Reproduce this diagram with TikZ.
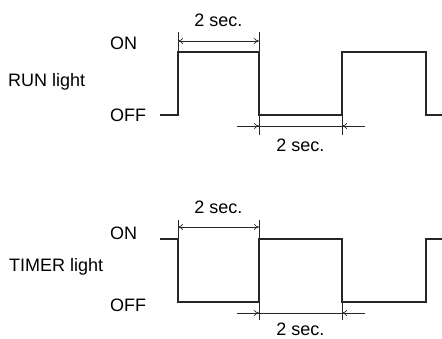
\documentclass[tikz,border=0pt]{standalone}
\usepackage{fontspec}
\setmainfont{Liberation Sans}
\usetikzlibrary{arrows.meta}

\begin{document}
\begin{tikzpicture}[x=1pt, y=-1pt, >={To[length=5pt,width=6pt]},
  font=\fontsize{18}{21}\selectfont]

  \useasboundingbox (0,0) rectangle (442,339);

  \tikzset{
    wave/.style={line width=2pt, line join=miter, black!85},
    dim/.style={line width=0.7pt, black!85},
    lbl/.style={anchor=west, inner sep=0pt}
  }

  % ---------- RUN light (Top) ----------
  \begin{scope}
    \node[lbl] (runname) at (8, 82) {RUN light};
    \node[lbl] (runon)  at (110, 43) {ON};
    \node[lbl] (runoff) at (110, 115) {OFF};

    \draw[wave] (160,115) -- (178,115) -- (178,52) -- (259,52) -- (259,115)
      -- (342,115) -- (342,52) -- (426,52) -- (426,115) -- (442,115);

    % dimension above
    \draw[dim] (178,32) -- (178,52) (259,32) -- (259,52);
    \draw[dim, <->] (178,41) -- (259,41);
    \node (runtop) at (218.5, 20) {2 sec.};

    % dimension below
    \draw[dim] (259,115) -- (259,135) (342,115) -- (342,135);
    \draw[dim] (237,126) -- (365,126);
    \draw[dim, ->] (237,126) -- (259,126);
    \draw[dim, ->] (365,126) -- (342,126);
    \node (runbot) at (300.5, 145) {2 sec.};
  \end{scope}

  % ---------- TIMER light (Bottom) ----------
  \begin{scope}[shift={(0,187)}]
    \node[lbl] (timname) at (9, 80) {TIMER light};
    \node[lbl] (timon)  at (110, 46) {ON};
    \node[lbl] (timoff) at (110, 118) {OFF};

    \draw[wave] (160,52) -- (178,52) -- (178,115) -- (259,115) -- (259,52)
      -- (342,52) -- (342,115) -- (426,115) -- (426,52) -- (442,52);

    % dimension above
    \draw[dim] (178,33) -- (178,52) (259,33) -- (259,52);
    \draw[dim, <->] (178,40) -- (259,40);
    \node (timtop) at (218.5, 20) {2 sec.};

    % dimension below
    \draw[dim] (259,115) -- (259,133) (342,115) -- (342,133);
    \draw[dim] (237,126) -- (365,126);
    \draw[dim, ->] (237,126) -- (259,126);
    \draw[dim, ->] (365,126) -- (342,126);
    \node (timbot) at (300.5, 142) {2 sec.};
  \end{scope}

\end{tikzpicture}
\end{document}
